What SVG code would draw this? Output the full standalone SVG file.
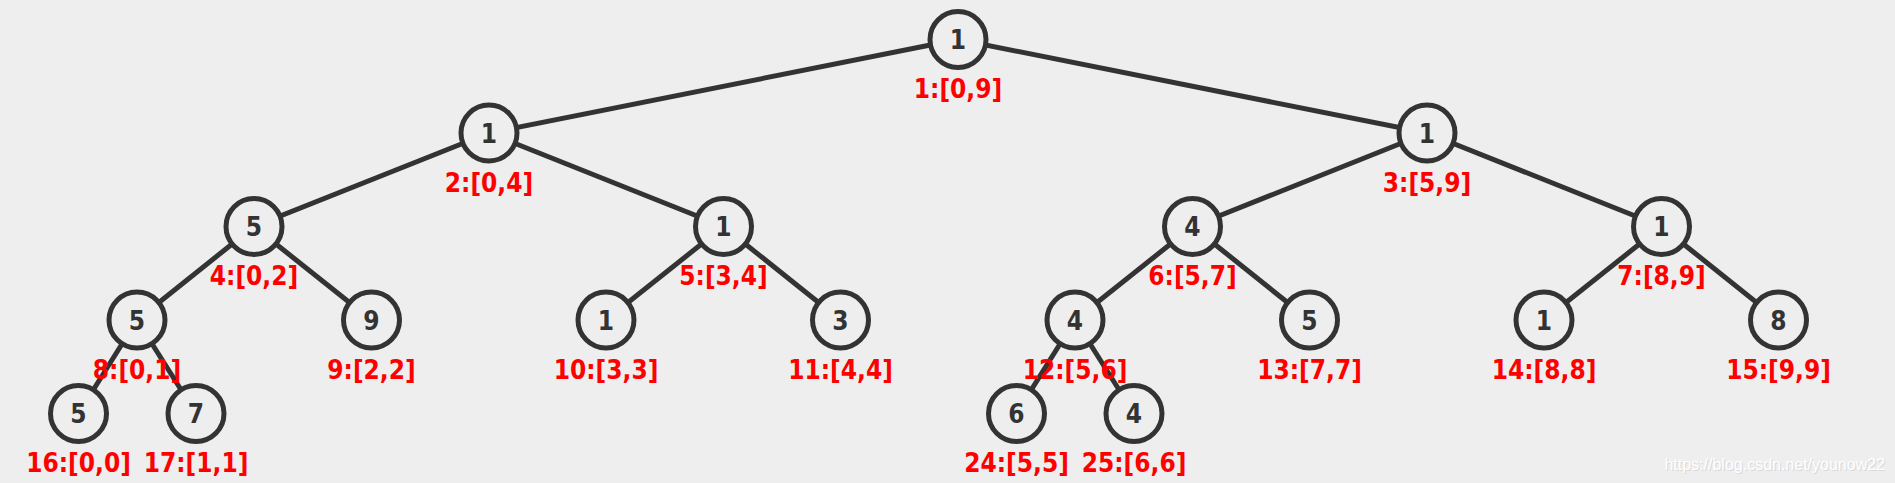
<svg xmlns="http://www.w3.org/2000/svg" width="1895" height="483" viewBox="0 0 1895 483">
<style>
.e{stroke:#333;stroke-width:5;fill:none}
.n circle{fill:#eee;stroke:#333;stroke-width:5}
.v{font-family:"DejaVu Sans Condensed","DejaVu Sans",sans-serif;font-weight:bold;font-size:26px;fill:#333;text-anchor:middle}
.l{font-family:"DejaVu Sans Condensed","DejaVu Sans",sans-serif;font-weight:bold;font-size:26px;fill:#ff0000;text-anchor:middle}
.w{font-family:"Liberation Sans",Arial,sans-serif;font-size:16px;text-anchor:end}
</style>
<rect width="1895" height="483" fill="#eeeeee"/>
<g id="connectors">
<line class="e" x1="958" y1="39.5" x2="489" y2="133"/>
<line class="e" x1="958" y1="39.5" x2="1427" y2="133"/>
<line class="e" x1="489" y1="133" x2="254" y2="226.5"/>
<line class="e" x1="489" y1="133" x2="723.5" y2="226.5"/>
<line class="e" x1="1427" y1="133" x2="1192.5" y2="226.5"/>
<line class="e" x1="1427" y1="133" x2="1661.5" y2="226.5"/>
<line class="e" x1="254" y1="226.5" x2="137" y2="320"/>
<line class="e" x1="254" y1="226.5" x2="371.5" y2="320"/>
<line class="e" x1="723.5" y1="226.5" x2="606" y2="320"/>
<line class="e" x1="723.5" y1="226.5" x2="840.5" y2="320"/>
<line class="e" x1="1192.5" y1="226.5" x2="1075" y2="320"/>
<line class="e" x1="1192.5" y1="226.5" x2="1309.5" y2="320"/>
<line class="e" x1="1661.5" y1="226.5" x2="1544" y2="320"/>
<line class="e" x1="1661.5" y1="226.5" x2="1778.5" y2="320"/>
<line class="e" x1="137" y1="320" x2="78.5" y2="413.5"/>
<line class="e" x1="137" y1="320" x2="196" y2="413.5"/>
<line class="e" x1="1075" y1="320" x2="1016.5" y2="413.5"/>
<line class="e" x1="1075" y1="320" x2="1134" y2="413.5"/>
</g>
<g id="node1" class="n"><circle cx="958" cy="39.5" r="28"/><text class="v" x="958" y="49">1</text></g>
<g id="node2" class="n"><circle cx="489" cy="133" r="28"/><text class="v" x="489" y="142.5">1</text></g>
<g id="node3" class="n"><circle cx="1427" cy="133" r="28"/><text class="v" x="1427" y="142.5">1</text></g>
<g id="node4" class="n"><circle cx="254" cy="226.5" r="28"/><text class="v" x="254" y="236">5</text></g>
<g id="node5" class="n"><circle cx="723.5" cy="226.5" r="28"/><text class="v" x="723.5" y="236">1</text></g>
<g id="node6" class="n"><circle cx="1192.5" cy="226.5" r="28"/><text class="v" x="1192.5" y="236">4</text></g>
<g id="node7" class="n"><circle cx="1661.5" cy="226.5" r="28"/><text class="v" x="1661.5" y="236">1</text></g>
<g id="node8" class="n"><circle cx="137" cy="320" r="28"/><text class="v" x="137" y="329.5">5</text></g>
<g id="node9" class="n"><circle cx="371.5" cy="320" r="28"/><text class="v" x="371.5" y="329.5">9</text></g>
<g id="node10" class="n"><circle cx="606" cy="320" r="28"/><text class="v" x="606" y="329.5">1</text></g>
<g id="node11" class="n"><circle cx="840.5" cy="320" r="28"/><text class="v" x="840.5" y="329.5">3</text></g>
<g id="node12" class="n"><circle cx="1075" cy="320" r="28"/><text class="v" x="1075" y="329.5">4</text></g>
<g id="node13" class="n"><circle cx="1309.5" cy="320" r="28"/><text class="v" x="1309.5" y="329.5">5</text></g>
<g id="node14" class="n"><circle cx="1544" cy="320" r="28"/><text class="v" x="1544" y="329.5">1</text></g>
<g id="node15" class="n"><circle cx="1778.5" cy="320" r="28"/><text class="v" x="1778.5" y="329.5">8</text></g>
<g id="node16" class="n"><circle cx="78.5" cy="413.5" r="28"/><text class="v" x="78.5" y="423">5</text></g>
<g id="node17" class="n"><circle cx="196" cy="413.5" r="28"/><text class="v" x="196" y="423">7</text></g>
<g id="node24" class="n"><circle cx="1016.5" cy="413.5" r="28"/><text class="v" x="1016.5" y="423">6</text></g>
<g id="node25" class="n"><circle cx="1134" cy="413.5" r="28"/><text class="v" x="1134" y="423">4</text></g>
<g id="labels">
<text class="l" x="958" y="98">1:[0,9]</text>
<text class="l" x="489" y="191.5">2:[0,4]</text>
<text class="l" x="1427" y="191.5">3:[5,9]</text>
<text class="l" x="254" y="285">4:[0,2]</text>
<text class="l" x="723.5" y="285">5:[3,4]</text>
<text class="l" x="1192.5" y="285">6:[5,7]</text>
<text class="l" x="1661.5" y="285">7:[8,9]</text>
<text class="l" x="137" y="378.5">8:[0,1]</text>
<text class="l" x="371.5" y="378.5">9:[2,2]</text>
<text class="l" x="606" y="378.5">10:[3,3]</text>
<text class="l" x="840.5" y="378.5">11:[4,4]</text>
<text class="l" x="1075" y="378.5">12:[5,6]</text>
<text class="l" x="1309.5" y="378.5">13:[7,7]</text>
<text class="l" x="1544" y="378.5">14:[8,8]</text>
<text class="l" x="1778.5" y="378.5">15:[9,9]</text>
<text class="l" x="78.5" y="472">16:[0,0]</text>
<text class="l" x="196" y="472">17:[1,1]</text>
<text class="l" x="1016.5" y="472">24:[5,5]</text>
<text class="l" x="1134" y="472">25:[6,6]</text>
</g>
<text class="w" x="1886" y="471" fill="#d8d8d8">https://blog.csdn.net/younow22</text>
<text class="w" x="1885" y="470" fill="#ffffff">https://blog.csdn.net/younow22</text>
</svg>
